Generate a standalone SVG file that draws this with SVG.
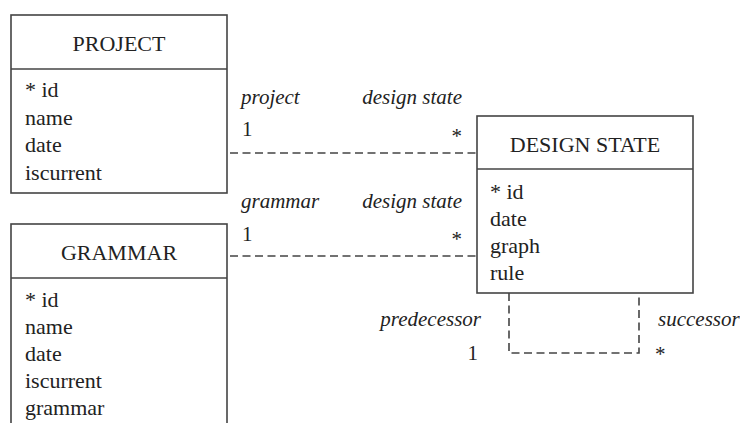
<svg xmlns="http://www.w3.org/2000/svg" width="740" height="423" viewBox="0 0 740 423">
  <style>
    .box { fill: #ffffff; stroke: #444444; stroke-width: 1.6; }
    .sep { stroke: #444444; stroke-width: 1.6; }
    text { font-family: "Liberation Serif", "Times New Roman", Times, Tinos, "Nimbus Roman", "Nimbus Roman No9 L", "Noto Serif", "DejaVu Serif", FreeSerif, serif; fill: #222222; }
    .title { font-size: 22px; text-anchor: middle; }
    .attr { font-size: 22px; }
    .role { font-size: 21px; font-style: italic; }
    .mult { font-size: 21px; }
    .assoc { fill: none; stroke: #444444; stroke-width: 1.6; stroke-dasharray: 8 4.5; }
  </style>
  <rect width="740" height="423" fill="#ffffff"/>

  <g id="project">
    <rect class="box" x="11" y="15" width="216" height="178"/>
    <line class="sep" x1="11" y1="69" x2="227" y2="69"/>
    <text class="title" x="119" y="51">PROJECT</text>
    <text class="attr" x="25" y="97">* id</text>
    <text class="attr" x="25" y="125">name</text>
    <text class="attr" x="25" y="152">date</text>
    <text class="attr" x="25" y="180">iscurrent</text>
  </g>

  <g id="grammar">
    <rect class="box" x="11" y="224" width="216" height="220"/>
    <line class="sep" x1="11" y1="278" x2="227" y2="278"/>
    <text class="title" x="119" y="260">GRAMMAR</text>
    <text class="attr" x="25" y="307">* id</text>
    <text class="attr" x="25" y="334">name</text>
    <text class="attr" x="25" y="361">date</text>
    <text class="attr" x="25" y="388">iscurrent</text>
    <text class="attr" x="25" y="415">grammar</text>
  </g>

  <g id="design-state">
    <rect class="box" x="477" y="116" width="216" height="177"/>
    <line class="sep" x1="477" y1="169" x2="693" y2="169"/>
    <text class="title" x="585" y="152">DESIGN STATE</text>
    <text class="attr" x="490" y="199">* id</text>
    <text class="attr" x="490" y="226">date</text>
    <text class="attr" x="490" y="253">graph</text>
    <text class="attr" x="490" y="280">rule</text>
  </g>

  <g id="connectors">
    <!-- project 1 : * design state -->
    <line class="assoc" x1="230" y1="153" x2="477" y2="153"/>
    <text class="role" x="241" y="104">project</text>
    <text class="role" x="462" y="104" text-anchor="end">design state</text>
    <text class="mult" x="242" y="136">1</text>
    <text class="mult" x="462" y="143" text-anchor="end">*</text>

    <!-- grammar 1 : * design state -->
    <line class="assoc" x1="230" y1="256" x2="477" y2="256"/>
    <text class="role" x="241" y="208">grammar</text>
    <text class="role" x="462" y="208" text-anchor="end">design state</text>
    <text class="mult" x="242" y="241">1</text>
    <text class="mult" x="462" y="246" text-anchor="end">*</text>

    <!-- predecessor / successor self association -->
    <polyline class="assoc" points="509,293 509,353 639,353 639,293"/>
    <text class="role" x="481" y="326" text-anchor="end">predecessor</text>
    <text class="role" x="658" y="326">successor</text>
    <text class="mult" x="478" y="360" text-anchor="end">1</text>
    <text class="mult" x="655" y="361">*</text>
  </g>
</svg>
